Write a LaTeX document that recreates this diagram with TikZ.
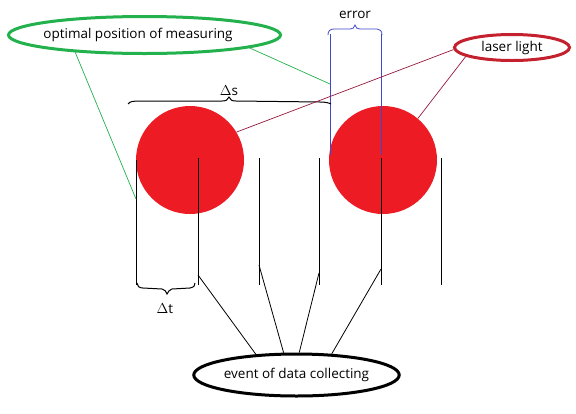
\documentclass[tikz,border=0pt]{standalone}
\usepackage{fontspec}
\setmainfont{Open Sans}
\usetikzlibrary{shapes.geometric}
\definecolor{pgreen}{RGB}{34,177,76}
\definecolor{pred}{RGB}{237,28,36}
\definecolor{pdark}{RGB}{195,33,45}
\definecolor{pline}{RGB}{150,25,60}
\definecolor{pblue}{RGB}{63,72,204}
\begin{document}
\begin{tikzpicture}[x=1pt,y=-1pt,
  font=\fontsize{13.5}{16}\selectfont,
  oval/.style={ellipse, draw, line width=3pt, inner sep=0pt},
  disc/.style={circle, fill=pred, minimum size=108pt, inner sep=0pt},
  mark line/.style={black, line width=1pt},
  conn/.style={black, line width=0.8pt},
  greenconn/.style={pgreen, line width=0.7pt},
  redconn/.style={pline, line width=0.7pt},
  blueline/.style={pblue, line width=0.8pt},
  bracestyle/.style={line width=1pt}]
\useasboundingbox (0,0) rectangle (576,413);

% ellipses
\node[oval, draw=pgreen, minimum width=272pt, minimum height=37pt] (opt) at (144.5,35) {};
\node (optlabel) at (138,35) {optimal position of measuring};
\node[oval, draw=pdark, minimum width=115pt, minimum height=26pt] (laser) at (512,47.5) {laser light};
\node[oval, draw=black, minimum width=200pt, minimum height=42pt] (event) at (296.5,375) {event of data collecting};

% circles
\node[disc] (c1) at (190,160) {};
\node[disc] (c2) at (383,160) {};

% vertical lines
\coordinate (v1t) at (136,160); \coordinate (v1b) at (136,285);
\coordinate (v2t) at (198,158); \coordinate (v2b) at (198,285);
\coordinate (v3t) at (259,158); \coordinate (v3b) at (259,285);
\coordinate (v4t) at (319,158); \coordinate (v4b) at (319,285);
\coordinate (v5t) at (381,158); \coordinate (v5b) at (381,285);
\coordinate (v6t) at (441,158); \coordinate (v6b) at (441,285);
\foreach \i in {1,...,6} \draw[mark line] (v\i t) -- (v\i b);

% blue error lines and brace
\coordinate (b1t) at (330,34); \coordinate (b1b) at (330,155);
\coordinate (b2t) at (381.5,34); \coordinate (b2b) at (381.5,155);
\draw[blueline] (b1t) -- (b1b);
\draw[blueline] (b2t) -- (b2b);
\draw[blueline] (328,35) .. controls (328,31) and (330,29) .. (334,29) -- (350,29)
  .. controls (353,29) and (354,28) .. (355,25) .. controls (356,28) and (357,29) .. (360,29)
  -- (377,29) .. controls (380,29) and (382,31) .. (382,35);
\node (errlabel) at (355,15) {error};

% delta s brace
\draw[bracestyle] (128,104) .. controls (130,101) and (134,101) .. (142,101) -- (222,101)
  .. controls (226,101) and (228,100) .. (229,97) .. controls (230,100) and (232,101) .. (236,101)
  -- (320,102) .. controls (326,102) and (329,103) .. (331,104);
\node (dslabel) at (229,91) {$\Delta$s};

% delta t brace
\draw[bracestyle] (137,283) .. controls (137,286) and (139,288) .. (143,288) -- (162,289)
  .. controls (165,290) and (166,291) .. (167,294) .. controls (168,291) and (170,290) .. (172,289)
  -- (190,288) .. controls (194,287) and (195,286) .. (195,283);
\node (dtlabel) at (165,309) {$\Delta$t};

% green connectors
\coordinate (g1) at (136,199);
\coordinate (g2) at (330,84);
\draw[greenconn] (opt.194) -- (g1);
\draw[greenconn] (opt.353) -- (g2);

% red connectors
\draw[redconn] (laser.182) -- (c1.31);
\draw[redconn] (laser.191) -- (c2.50);

% connectors to event
\coordinate (e1) at (198,275);
\coordinate (e2) at (259,265);
\coordinate (e3) at (319,273);
\coordinate (e4) at (381,269);
\draw[conn] (e1) -- (event.153);
\draw[conn] (e2) -- (event.120);
\draw[conn] (e3) -- (event.83);
\draw[conn] (e4) -- (event.31);
\end{tikzpicture}
\end{document}
